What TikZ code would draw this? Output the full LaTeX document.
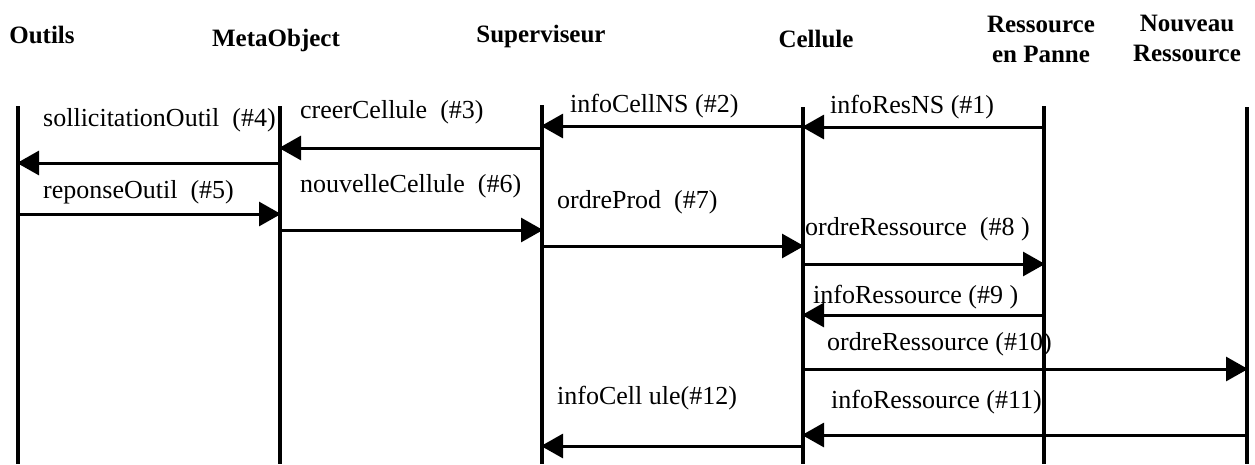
\documentclass[tikz,border=0pt]{standalone}
\usepackage{fontspec}
\setmainfont{Liberation Serif}
\usetikzlibrary{arrows.meta}
\begin{document}
\begin{tikzpicture}[x=1pt,y=-1pt,
  hdr/.style={font=\fontsize{25}{30}\selectfont\bfseries, align=center, inner sep=0pt, anchor=base},
  lbl/.style={font=\fontsize{26}{28}\selectfont, anchor=base west, inner sep=0pt},
  life/.style={line width=3.2pt},
  msg/.style={line width=3pt, -{Triangle[length=22pt,width=24pt]}, shorten >=-1pt}]
\useasboundingbox (0,0) rectangle (1255,464);
% headers
\node[hdr] (hO) at (42,43) {Outils};
\node[hdr] (hM) at (276,46) {MetaObject};
\node[hdr] (hS) at (541,42) {Superviseur};
\node[hdr] (hC) at (816,47) {Cellule};
\node[hdr] (hR) at (1041,62) {Ressource\\en Panne};
\node[hdr] (hN) at (1187,61) {Nouveau\\Ressource};
% lifelines
\coordinate (O) at (18,106);
\coordinate (M) at (280,106);
\coordinate (S) at (542,105);
\coordinate (C) at (803,107);
\coordinate (R) at (1044,106);
\coordinate (N) at (1247,107);
\foreach \p in {O,M,S,C,R,N} \draw[life] (\p) -- (\p |- 0,464);
% messages
\draw[msg] (R |- 0,127) -- (C |- 0,127);
\draw[msg] (C |- 0,126) -- (S |- 0,126);
\draw[msg] (S |- 0,148) -- (M |- 0,148);
\draw[msg] (M |- 0,163) -- (O |- 0,163);
\draw[msg] (O |- 0,214) -- (M |- 0,214);
\draw[msg] (M |- 0,230) -- (S |- 0,230);
\draw[msg] (S |- 0,246) -- (C |- 0,246);
\draw[msg] (C |- 0,264) -- (R |- 0,264);
\draw[msg] (R |- 0,315) -- (C |- 0,315);
\draw[msg] (C |- 0,369) -- (N |- 0,369);
\draw[msg] (N |- 0,435) -- (C |- 0,435);
\draw[msg] (C |- 0,446) -- (S |- 0,446);
% labels
\node[lbl] (l1) at (830,113) {infoResNS (\#1)};
\node[lbl] (l2) at (570,112) {infoCellNS (\#2)};
\node[lbl] (l3) at (300,118) {creerCellule\ \ (\#3)};
\node[lbl] (l4) at (43,126) {sollicitationOutil\ \ (\#4)};
\node[lbl] (l5) at (43,198) {reponseOutil\ \ (\#5)};
\node[lbl] (l6) at (300,192) {nouvelleCellule\ \ (\#6)};
\node[lbl] (l7) at (557,208) {ordreProd\ \ (\#7)};
\node[lbl] (l8) at (805,235) {ordreRessource\ \ (\#8 )};
\node[lbl] (l9) at (813,303) {infoRessource (\#9 )};
\node[lbl] (l10) at (827,350) {ordreRessource (\#10)};
\node[lbl] (l11) at (831,408) {infoRessource (\#11)};
\node[lbl] (l12) at (557,404) {infoCell ule(\#12)};
\end{tikzpicture}
\end{document}
